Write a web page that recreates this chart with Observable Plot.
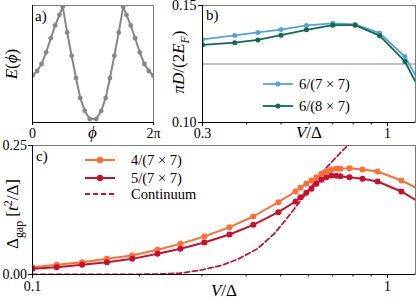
<!DOCTYPE html>
<html><head><meta charset="utf-8">
<script src="https://cdn.jsdelivr.net/npm/d3@7"></script>
<script src="https://cdn.jsdelivr.net/npm/@observablehq/plot@0.6"></script>
<style>
html,body{margin:0;padding:0;background:#fff;}
#chart{position:relative;width:416px;height:300px;overflow:hidden;background:#fff;}
#chart svg{position:absolute;left:0;top:0;}
</style></head><body><div id="chart"></div>
<script>
// ---------- Panel a: E(phi) ----------
const phiA = [0.00, 0.24, 0.47, 0.71, 0.95, 1.18, 1.40, 1.57, 1.80, 2.03, 2.26, 2.48, 2.71, 2.97,
              3.31, 3.57, 3.80, 4.02, 4.25, 4.48, 4.71, 4.88, 5.10, 5.33, 5.57, 5.81, 6.04, 6.28];
const energyA = [0.40, 0.44, 0.50, 0.60, 0.72, 0.83, 0.92, 0.99, 0.77, 0.57, 0.38, 0.21, 0.10, 0.03,
                 0.03, 0.10, 0.21, 0.38, 0.57, 0.77, 0.99, 0.92, 0.83, 0.72, 0.60, 0.50, 0.44, 0.40];
const xTicksA = [0, 2 * Math.PI];
const xTickLabelsA = ["0", "2π"];

// ---------- Panel b: pi D / (2 E_F) ----------
const vB = [0.30, 0.37, 0.43, 0.50, 0.59, 0.70, 0.81, 0.95, 1.12, 1.30];
const d6x7x7 = [0.1355, 0.1372, 0.1385, 0.1397, 0.1415, 0.1424, 0.1419, 0.1382, 0.1282, 0.1109];
const d6x8x7 = [0.1332, 0.1341, 0.1353, 0.1373, 0.1396, 0.1416, 0.1416, 0.1371, 0.1261, 0.1072];
const refLineB = [0.125];
const seriesB = ["6/(7 × 7)", "6/(8 × 7)"];
const xTicksB = [0.3, 1];
const xMinorB = [0.4, 0.5, 0.6, 0.7, 0.8, 0.9];
const yTicksB = [0.10, 0.15];

// ---------- Panel c: gap ----------
const vC = [0.100, 0.117, 0.138, 0.162, 0.191, 0.225, 0.261, 0.305, 0.359, 0.419, 0.493, 0.551, 0.569,
            0.591, 0.611, 0.631, 0.652, 0.673, 0.695, 0.718, 0.737, 0.782, 0.851, 0.938, 1.095, 1.300];
const gap4 = [0.0142, 0.0187, 0.0239, 0.0303, 0.0368, 0.0478, 0.0594, 0.0736, 0.0917, 0.1124, 0.1401, 0.1609, 0.1680,
              0.1758, 0.1822, 0.1886, 0.1952, 0.2002, 0.2035, 0.2048, 0.2048, 0.2060, 0.2035, 0.1996, 0.1822, 0.1576];
const gap5 = [0.0110, 0.0142, 0.0187, 0.0239, 0.0303, 0.0401, 0.0498, 0.0620, 0.0775, 0.0963, 0.1207, 0.1415, 0.1498,
              0.1583, 0.1661, 0.1758, 0.1835, 0.1886, 0.1919, 0.1913, 0.1905, 0.1886, 0.1855, 0.1802, 0.1609, 0.1300];
const vCont = [0.10, 0.15, 0.20, 0.23, 0.26, 0.28, 0.30, 0.34, 0.38, 0.43, 0.48, 0.52, 0.57, 0.62, 0.675, 0.74, 0.80];
const gCont = [0, 0, 0.0003, 0.001, 0.0025, 0.0055, 0.009, 0.0174, 0.0300, 0.0498, 0.0789, 0.1080, 0.1434, 0.1758, 0.2080, 0.2370, 0.2600];
const seriesC = ["4/(7 × 7)", "5/(7 × 7)", "Continuum"];
const xTicksC = [0.1, 1];
const xMinorC = [0.2, 0.3, 0.4, 0.5, 0.6, 0.7, 0.8, 0.9];
const yTicksC = [0, 0.25];

// ---------- styling ----------
const W = 416, H = 300;
const serif = "'Liberation Serif','DejaVu Serif',serif";
const FS = 14;      // tick labels
const LS = 17;      // axis labels
const GS = 14.5;    // legend
const gray = "#868686", spine = "#7a7a7a";
const blue = "#56a2d5", green = "#0d6b50";
const orange = "#ff6d33", red = "#c8102e", contColor = "#c0143c";

function base(l, r, t, b) {
  return {width: W, height: H, marginLeft: l, marginRight: W - r, marginTop: t, marginBottom: H - b,
    style: {fontFamily: serif, fontSize: FS + "px", background: "transparent", overflow: "visible"}};
}

const rowsA = phiA.map((phi, i) => ({phi, E: energyA[i]}));
const rowsB = [
  ...vB.map((v, i) => ({v, d: d6x7x7[i], s: seriesB[0]})),
  ...vB.map((v, i) => ({v, d: d6x8x7[i], s: seriesB[1]}))
];
const rowsC4 = vC.map((v, i) => ({v, g: gap4[i]}));
const rowsC5 = vC.map((v, i) => ({v, g: gap5[i]}));
const rowsCont = vCont.map((v, i) => ({v, g: gCont[i]}));

const svgA = Plot.plot({
  ...base(32, 153, 5, 122),
  x: {domain: [0, 2 * Math.PI], label: null},
  y: {domain: [0, 1], label: null},
  marks: [
    Plot.frame({stroke: spine}),
    Plot.line(rowsA, {x: "phi", y: "E", stroke: gray, strokeWidth: 2, clip: true}),
    Plot.dot(rowsA, {x: "phi", y: "E", r: 2.4, fill: gray, clip: true}),
    Plot.axisX(xTicksA, {tickSize: 3, tickPadding: 2.5, tickFormat: (d, i) => xTickLabelsA[i], label: null}),
    Plot.axisY([], {label: null}),
    Plot.ruleX([0], {stroke: "black"}),
    Plot.ruleY([0], {stroke: "black"})
  ]
});

const svgB = Plot.plot({
  ...base(202, 415, 5, 122),
  x: {type: "log", domain: [0.3, 1.2], label: null},
  y: {domain: [0.10, 0.15], label: null},
  color: {domain: seriesB, range: [blue, green]},
  marks: [
    Plot.frame({stroke: spine}),
    Plot.ruleY(refLineB, {stroke: "#ababab", strokeWidth: 1.5}),
    Plot.line(rowsB, {x: "v", y: "d", z: "s", stroke: "s", strokeWidth: 1.8, clip: true}),
    Plot.dot(rowsB, {x: "v", y: "d", fill: "s", r: 2.5, clip: true}),
    Plot.axisX(xTicksB, {tickSize: 4, tickPadding: 1.5, tickFormat: d => d === 1 ? "1" : "0.3", label: null}),
    Plot.axisX(xMinorB, {tickSize: 2.5, tickFormat: () => "", label: null}),
    Plot.axisY(yTicksB, {tickSize: 4, tickPadding: 2, tickFormat: d => d.toFixed(2), label: null}),
    Plot.ruleX([0.3], {stroke: "black"}),
    Plot.ruleY([0.10], {stroke: "black"})
  ]
});

const svgC = Plot.plot({
  ...base(32, 415, 145, 274),
  x: {type: "log", domain: [0.1, 1.2], label: null},
  y: {domain: [0, 0.25], label: null},
  marks: [
    Plot.frame({stroke: spine}),
    Plot.line(rowsCont, {x: "v", y: "g", stroke: contColor, strokeWidth: 1.8, strokeDasharray: "5,3", clip: true}),
    Plot.line(rowsC4, {x: "v", y: "g", stroke: orange, strokeWidth: 2, clip: true}),
    Plot.dot(rowsC4, {x: "v", y: "g", fill: orange, r: 3, clip: true}),
    Plot.line(rowsC5, {x: "v", y: "g", stroke: red, strokeWidth: 2, clip: true}),
    Plot.dot(rowsC5, {x: "v", y: "g", fill: red, r: 3, clip: true}),
    Plot.axisX(xTicksC, {tickSize: 4, tickPadding: 2.5, tickFormat: d => d === 1 ? "1" : "0.1", label: null}),
    Plot.axisX(xMinorC, {tickSize: 2.5, tickFormat: () => "", label: null}),
    Plot.axisY(yTicksC, {tickSize: 4, tickPadding: 1.5, tickFormat: d => d.toFixed(2), label: null}),
    Plot.ruleX([0.1], {stroke: "black"}),
    Plot.ruleY([0], {stroke: "black"})
  ]
});

const chart = document.getElementById("chart");
chart.append(svgA, svgB, svgC);

// ---------- rich text labels ----------
function rich(svg, x, y, parts, opt = {}) {
  const size = opt.size || FS;
  const t = d3.select(svg).append("text")
    .attr("x", x).attr("y", y)
    .attr("font-family", serif).attr("font-size", size)
    .attr("text-anchor", opt.anchor || "middle").attr("fill", "black");
  if (opt.rotate) t.attr("transform", `rotate(${opt.rotate},${x},${y})`);
  let cur = 0;
  for (const [s, st = ""] of parts) {
    const ts = t.append("tspan").text(s);
    if (st.includes("i")) ts.attr("font-style", "italic");
    let shift = 0;
    if (st.includes("sub")) { shift = size * 0.28; ts.attr("font-size", size * 0.7); }
    if (st.includes("sup")) { shift = -size * 0.38; ts.attr("font-size", size * 0.7); }
    if (shift !== cur) { ts.attr("dy", shift - cur); cur = shift; }
  }
  return t;
}
const lay = svgC;
rich(lay, 35, 21, [["a)"]], {anchor: "start", size: 15});
rich(lay, 206, 20, [["b)"]], {anchor: "start", size: 15});
rich(lay, 36, 161, [["c)"]], {anchor: "start", size: 15});
rich(lay, 17, 64, [["E", "i"], ["("], ["ϕ", "i"], [")"]], {rotate: -90, size: LS});
rich(lay, 184, 62, [["π", "i"], ["D", "i"], ["/(2"], ["E", "i"], ["F", "isub"], [")"]], {rotate: -90, size: LS});
rich(lay, 18, 214, [["Δ"], ["gap", "sub"], [" ["], ["t", "i"], ["2", "sup"], ["/Δ]"]], {rotate: -90, size: LS});
rich(lay, 92.5, 138, [["ϕ", "i"]], {size: LS});
rich(lay, 309, 138, [["V", "i"], ["/Δ"]], {size: LS});
rich(lay, 224, 296, [["V", "i"], ["/Δ"]], {size: LS});

// legends
function legendItem(svg, x1, x2, tx, y, color, labelParts, o) {
  const g = d3.select(svg).append("g");
  g.append("line").attr("x1", x1).attr("x2", x2).attr("y1", y).attr("y2", y)
    .attr("stroke", color).attr("stroke-width", o.w).attr("stroke-dasharray", o.dash || null);
  if (o.r) g.append("circle").attr("cx", (x1 + x2) / 2).attr("cy", y).attr("r", o.r).attr("fill", color);
  rich(svg, tx, y + 5, labelParts, {anchor: "start", size: GS});
}
legendItem(lay, 263, 293, 299, 84, blue, [[seriesB[0]]], {w: 1.8, r: 2.5});
legendItem(lay, 263, 293, 299, 106, green, [[seriesB[1]]], {w: 1.8, r: 2.5});
legendItem(lay, 85, 115, 131, 160, orange, [[seriesC[0]]], {w: 2, r: 3.2});
legendItem(lay, 85, 115, 131, 178, red, [[seriesC[1]]], {w: 2, r: 3.2});
legendItem(lay, 85, 115, 131, 194, contColor, [[seriesC[2]]], {w: 1.8, dash: "5,3"});
</script></body></html>
